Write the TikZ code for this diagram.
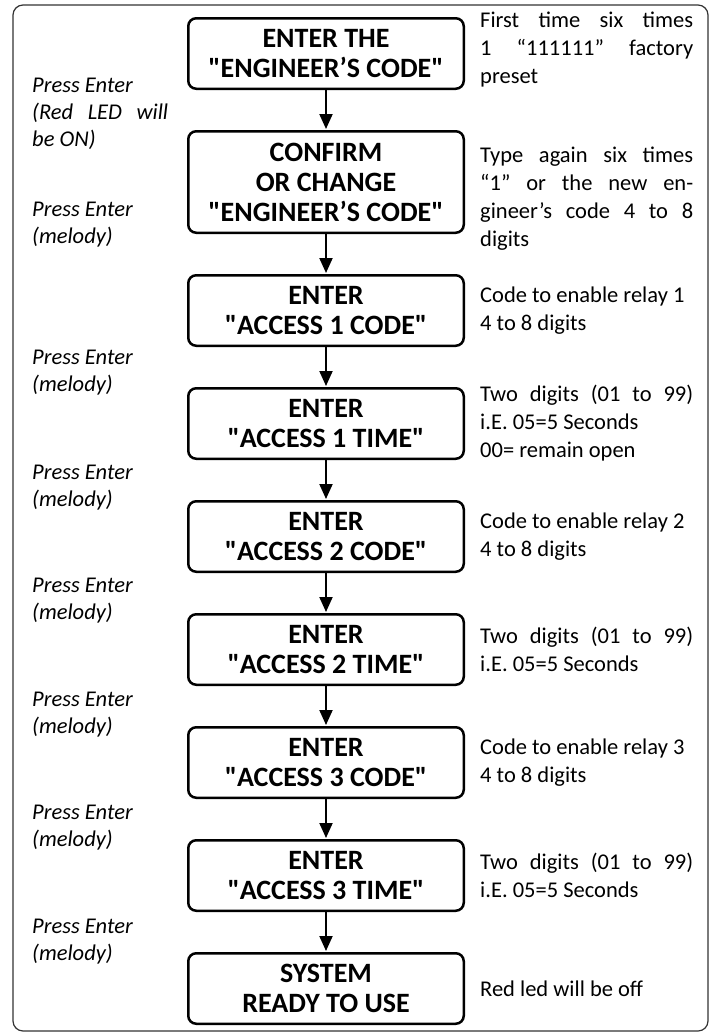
\documentclass[tikz,border=0pt]{standalone}
\usepackage{fontspec}
\setmainfont{Carlito}[Ligatures=TeXOff]
\usetikzlibrary{arrows.meta,positioning}

% a line stretched to the full width of a justified note
\newcommand{\fullline}[2][213pt]{\makebox[#1][s]{#2}}

\begin{document}
\begin{tikzpicture}[
    >={Triangle[length=15pt,width=13pt]},
    stepbox/.style={draw, line width=2.5pt, rounded corners=8pt,
        minimum width=275.5pt, minimum height=70.5pt, align=center,
        inner sep=0pt, font=\fontsize{28}{30}\selectfont\bfseries},
    flowarrow/.style={->, line width=2pt, shorten >=1pt},
    keynote/.style={anchor=west, align=left, inner sep=0pt,
        font=\fontsize{22.5}{27}\selectfont\itshape},
    infonote/.style={anchor=west, align=left, inner sep=0pt,
        font=\fontsize{22.5}{28}\selectfont},
]
\useasboundingbox (0pt,0pt) rectangle (713pt,-1034pt);

% =====================================================
% Outer frame
% =====================================================
\node[draw=black!80, line width=1.2pt, rounded corners=10pt,
    minimum width=695pt, minimum height=1026pt] (frame)
    at (360.5pt,-518pt) {};

% =====================================================
% Programming steps (centre column)
% =====================================================
\node[stepbox, anchor=north] (engcode) at (326pt,-17pt)
    {ENTER THE\\"ENGINEER’S CODE"};
\node[stepbox, minimum height=101.5pt, below=40pt of engcode] (confirm)
    {CONFIRM\\OR CHANGE\\"ENGINEER’S CODE"};
\node[stepbox, below=40pt of confirm] (acconecode)
    {ENTER\\"ACCESS 1 CODE"};
\node[stepbox, below=40pt of acconecode] (acconetime)
    {ENTER\\"ACCESS 1 TIME"};
\node[stepbox, below=40pt of acconetime] (acctwocode)
    {ENTER\\"ACCESS 2 CODE"};
\node[stepbox, below=40pt of acctwocode] (acctwotime)
    {ENTER\\"ACCESS 2 TIME"};
\node[stepbox, below=40pt of acctwotime] (accthreecode)
    {ENTER\\"ACCESS 3 CODE"};
\node[stepbox, below=40pt of accthreecode] (accthreetime)
    {ENTER\\"ACCESS 3 TIME"};
\node[stepbox, below=40pt of accthreetime] (ready)
    {SYSTEM\\READY TO USE};

% --- arrows between steps ---
\draw[flowarrow] (engcode) -- (confirm);
\draw[flowarrow] (confirm) -- (acconecode);
\draw[flowarrow] (acconecode) -- (acconetime);
\draw[flowarrow] (acconetime) -- (acctwocode);
\draw[flowarrow] (acctwocode) -- (acctwotime);
\draw[flowarrow] (acctwotime) -- (accthreecode);
\draw[flowarrow] (accthreecode) -- (accthreetime);
\draw[flowarrow] (accthreetime) -- (ready);

% =====================================================
% Key presses (left column)
% =====================================================
\node[keynote] (keyone) at (32pt,-114pt)
    {Press Enter\\\fullline[136pt]{(Red LED will}\\be ON)};
\node[keynote] (keytwo) at (32pt,-225pt) {Press Enter\\(melody)};
\node[keynote] (keythree) at (32pt,-373pt) {Press Enter\\(melody)};
\node[keynote] (keyfour) at (32pt,-488pt) {Press Enter\\(melody)};
\node[keynote] (keyfive) at (32pt,-601pt) {Press Enter\\(melody)};
\node[keynote] (keysix) at (32pt,-715pt) {Press Enter\\(melody)};
\node[keynote] (keyseven) at (32pt,-828pt) {Press Enter\\(melody)};
\node[keynote] (keyeight) at (32pt,-942pt) {Press Enter\\(melody)};

% =====================================================
% Explanations (right column)
% =====================================================
\node[infonote] (infoone) at ([xshift=15pt, yshift=4pt]engcode.east)
    {\fullline{First time six times}\\
     \fullline{1 “111111” factory}\\preset};
\node[infonote] (infotwo) at ([xshift=15pt, yshift=-17pt]confirm.east)
    {\fullline{Type again six times}\\
     \fullline{“1” or the new en-}\\
     \fullline{gineer’s code 4 to 8}\\digits};
\node[infonote] (infothree) at ([xshift=15pt]acconecode.east)
    {Code to enable relay 1\\4 to 8 digits};
\node[infonote] (infofour) at ([xshift=15pt]acconetime.east)
    {\fullline{Two digits (01 to 99)}\\i.E. 05=5 Seconds\\00= remain open};
\node[infonote] (infofive) at ([xshift=15pt]acctwocode.east)
    {Code to enable relay 2\\4 to 8 digits};
\node[infonote] (infosix) at ([xshift=15pt]acctwotime.east)
    {\fullline{Two digits (01 to 99)}\\i.E. 05=5 Seconds};
\node[infonote] (infoseven) at ([xshift=15pt]accthreecode.east)
    {Code to enable relay 3\\4 to 8 digits};
\node[infonote] (infoeight) at ([xshift=15pt]accthreetime.east)
    {\fullline{Two digits (01 to 99)}\\i.E. 05=5 Seconds};
\node[infonote] (infonine) at ([xshift=15pt]ready.east)
    {Red led will be off};

\end{tikzpicture}
\end{document}
